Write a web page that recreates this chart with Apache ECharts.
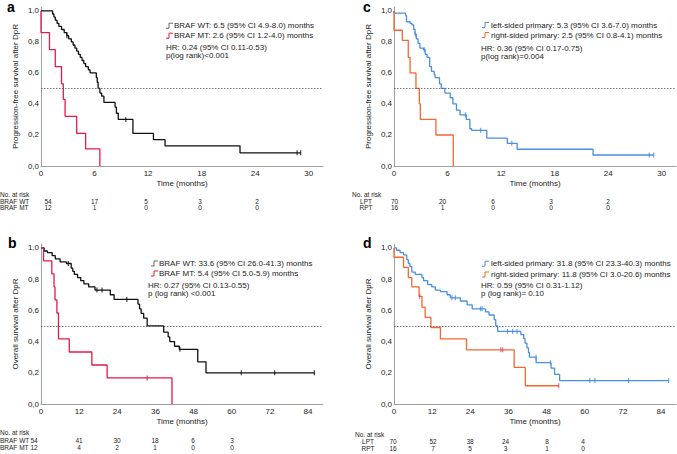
<!DOCTYPE html>
<html><head><meta charset="utf-8">
<script src="https://cdn.jsdelivr.net/npm/echarts@6/dist/echarts.min.js"></script>
<style>html,body{margin:0;padding:0;background:#fff}#c{width:677px;height:454px}</style>
</head><body><div id="c"></div>
<script>
// ---------- DATA (time in months, survival probability) ----------
var pfsWt = [[0,1],[1.3,0.98],[1.45,0.96],[1.6,0.94],[1.8,0.92],[2.0,0.90],[2.3,0.88],[2.6,0.86],[2.9,0.84],[3.1,0.82],[3.4,0.80],[3.6,0.78],[3.8,0.76],[4.0,0.74],[4.2,0.72],[4.4,0.70],[4.6,0.68],[4.8,0.66],[5.0,0.64],[5.3,0.62],[5.5,0.60],[6.2,0.57],[6.3,0.54],[6.4,0.50],[6.6,0.47],[6.8,0.45],[7.05,0.41],[8.3,0.38],[8.45,0.34],[8.66,0.30],[10.3,0.21],[12.6,0.17],[13.9,0.13],[22.3,0.085],[29.1,0.085]];
var pfsMt = [[0,1],[0,0.86],[0.95,0.75],[1.6,0.64],[2.3,0.53],[2.5,0.43],[2.7,0.32],[4.0,0.21],[5.0,0.11],[6.6,0]];
var pfsWtCens = [[2.9,0.84],[9.5,0.30],[28.7,0.085],[29.1,0.085]];

var osWt = [[0,1],[1.0,0.98],[2.0,0.97],[3.5,0.95],[4.5,0.93],[6.0,0.91],[8.0,0.90],[9.5,0.87],[10,0.85],[10.5,0.83],[11.5,0.81],[12.5,0.79],[13.5,0.77],[15,0.75],[17,0.73],[21.8,0.70],[23,0.67],[30.5,0.64],[31,0.61],[31.5,0.58],[32.3,0.55],[33.4,0.50],[38.6,0.46],[40,0.43],[40.5,0.40],[42,0.37],[43.5,0.35],[49.3,0.27],[51.9,0.20],[86,0.20]];
var osMt = [[0,1],[0.8,0.917],[3.4,0.833],[4.1,0.75],[4.4,0.667],[5.0,0.583],[5.5,0.417],[8.9,0.333],[16,0.25],[20.8,0.167],[41.2,0]];
var osWtCens = [[8.6,0.90],[17.6,0.73],[19.2,0.73],[27,0.67],[43.7,0.35],[63,0.20],[73.5,0.20],[86,0.20]];
var osMtCens = [[33.4,0.167]];

var pfsL = [[0,1],[0,0.985],[1.3,0.97],[1.4,0.93],[1.8,0.92],[2.0,0.91],[2.2,0.88],[2.35,0.85],[2.5,0.82],[2.7,0.79],[2.9,0.76],[3.3,0.75],[3.5,0.72],[3.7,0.70],[4.0,0.64],[4.2,0.61],[4.5,0.59],[4.6,0.57],[5.1,0.53],[5.3,0.50],[5.7,0.47],[6.3,0.44],[6.6,0.40],[7.0,0.36],[7.4,0.33],[8.1,0.30],[8.5,0.24],[8.7,0.23],[10.4,0.18],[12.7,0.146],[13.8,0.108],[22.3,0.071],[29.1,0.071]];
var pfsR = [[0,1],[0,0.875],[0.93,0.81],[1.6,0.70],[1.8,0.60],[2.46,0.50],[2.84,0.40],[2.95,0.30],[4.7,0.20],[6.64,0]];
var pfsLCens = [[2.4,0.85],[3.4,0.75],[8.0,0.33],[9.7,0.23],[13.2,0.146],[28.6,0.071],[29.1,0.071]];

var osL = [[0,1],[0.8,0.985],[1.9,0.97],[3.0,0.955],[4.0,0.925],[4.5,0.90],[5.0,0.88],[5.6,0.845],[6.7,0.83],[8.8,0.81],[9.3,0.79],[10.6,0.765],[11.9,0.75],[13.0,0.73],[14.6,0.72],[16.7,0.70],[17.7,0.68],[20.9,0.66],[23.0,0.635],[24.6,0.61],[28.8,0.59],[29.9,0.57],[31.5,0.54],[32.0,0.50],[32.6,0.465],[39.9,0.445],[40.8,0.42],[41.2,0.39],[41.8,0.36],[42.3,0.33],[42.6,0.30],[44.7,0.265],[49.4,0.23],[50.5,0.19],[52.1,0.15],[86.4,0.15]];
var osR = [[0,1],[0,0.94],[3.0,0.875],[4.5,0.81],[5.6,0.75],[7.9,0.69],[8.8,0.62],[9.8,0.555],[11.6,0.49],[14.6,0.417],[22.8,0.347],[37.8,0.234],[41.3,0.117],[51.8,0.117]];
var osLCens = [[18.2,0.68],[19.3,0.68],[27.2,0.61],[27.7,0.61],[35.7,0.465],[37.3,0.465],[38.7,0.465],[44.7,0.30],[49.2,0.265],[61.6,0.15],[63.2,0.15],[73.8,0.15],[86.4,0.15]];
var osRCens = [[8.1,0.69],[33.6,0.347],[34.2,0.347],[51.8,0.117]];

var panelLetters = ['a','b','c','d'];
var yNames = ['Progression-free survival after DpR','Overall survival after DpR','Progression-free survival after DpR','Overall survival after DpR'];
var xName = 'Time (months)';
var legendA = ['BRAF WT: 6.5 (95% CI 4.9-8.0) months','BRAF MT: 2.6 (95% CI 1.2-4.0) months','HR: 0.24 (95% CI 0.11-0.53)','p(log rank)<0.001'];
var legendB = ['BRAF WT: 33.6 (95% CI 26.0-41.3) months','BRAF MT: 5.4 (95% CI 5.0-5.9) months','HR: 0.27 (95% CI 0.13-0.55)','p (log rank) <0.001'];
var legendC = ['left-sided primary: 5.3 (95% CI 3.6-7.0) months','right-sided primary: 2.5 (95% CI 0.8-4.1) months','HR: 0.36 (95% CI 0.17-0.75)','p(log rank)=0.004'];
var legendD = ['left-sided primary: 31.8 (95% CI 23.3-40.3) months','right-sided primary: 11.8 (95% CI 3.0-20.6) months','HR: 0.59 (95% CI 0.31-1.12)','p (log rank)= 0.10'];

var riskHeader = 'No. at risk';
var riskLabelsBraf = ['BRAF WT','BRAF MT'];
var riskLabelsSide = ['LPT','RPT'];
var riskA = [[54,17,5,3,2],[12,1,0,0,0]];
var riskB = [[54,41,30,18,6,3],[12,4,2,1,0,0]];
var riskC = [[70,20,6,3,2],[16,1,0,0,0]];
var riskD = [[70,52,38,24,8,4],[16,7,5,3,1,0]];

// ---------- LAYOUT / STYLE ----------
var FONT = '"Liberation Sans", Arial, sans-serif';
var TXT = '#222';
var AX = '#a0a0a0';
var C_BLACK = '#111111', C_RED = '#e5194b', C_BLUE = '#4a8fe2', C_ORANGE = '#f4672f', C_CENS_R = '#e8416a';
var grids = [
  {left:41, top:7, width:282, height:159},
  {left:41, top:244, width:282, height:160},
  {left:394, top:7, width:282, height:159},
  {left:394, top:244, width:282, height:160}
];
var xMax = [31.6, 88.7, 31.6, 88.7];
var xInt = [6, 12, 6, 12];

var option = {
  animation:false,
  backgroundColor:'#fff',
  grid: grids.map(function(g){return Object.assign({outerBoundsMode:'none', containLabel:false}, g);}),
  xAxis: grids.map(function(g,i){return {
    gridIndex:i, type:'value', min:0, max:xMax[i], interval:xInt[i],
    axisLine:{show:true, onZero:false, lineStyle:{color:AX, width:1}},
    axisTick:{show:false}, splitLine:{show:false},
    axisLabel:{fontSize:8, fontFamily:FONT, color:TXT, margin:3,
      formatter:function(v){ return (Math.abs(v/xInt[i]-Math.round(v/xInt[i]))<1e-6) ? String(Math.round(v)) : ''; }},
    name:xName, nameLocation:'middle', nameGap:13,
    nameTextStyle:{fontSize:8, fontFamily:FONT, color:TXT}
  };}),
  yAxis: grids.map(function(g,i){return {
    gridIndex:i, type:'value', min:0, max:1.025, interval:0.2,
    axisLine:{show:true, lineStyle:{color:AX, width:1}},
    axisTick:{show:false}, splitLine:{show:false},
    axisLabel:{fontSize:8, fontFamily:FONT, color:TXT, margin:2,
      formatter:function(v){ var k=v*5; return (Math.abs(k-Math.round(k))<1e-6) ? (Math.round(k)/5).toFixed(1).replace('.',',') : ''; }},
    name:yNames[i], nameLocation:'middle', nameGap:22,
    nameTextStyle:{fontSize:8, fontFamily:FONT, color:TXT}
  };}),
  series: [],
  graphic: []
};

function km(data, gi, color, withRef){
  var s = {type:'line', xAxisIndex:gi, yAxisIndex:gi, data:data, step:'end', symbol:'none',
    lineStyle:{color:color, width:1.3}, itemStyle:{color:color}, silent:true, z:3};
  if(withRef){
    s.markLine = {silent:true, symbol:['none','none'], label:{show:false},
      lineStyle:{color:'#555', type:[1.5,1.5], width:0.8}, data:[{yAxis:0.5}]};
  }
  option.series.push(s);
}
function cens(data, gi, color){
  option.series.push({type:'scatter', xAxisIndex:gi, yAxisIndex:gi, data:data, symbol:'rect',
    symbolSize:[1.2,5], itemStyle:{color:color}, silent:true, z:4});
}
km(pfsWt,0,C_BLACK,true); km(pfsMt,0,C_RED,false); cens(pfsWtCens,0,C_BLACK);
km(osWt,1,C_BLACK,true); km(osMt,1,C_RED,false); cens(osWtCens,1,C_BLACK); cens(osMtCens,1,C_RED);
km(pfsL,2,C_BLUE,true); km(pfsR,2,C_ORANGE,false); cens(pfsLCens,2,C_BLUE);
km(osL,3,C_BLUE,true); km(osR,3,C_ORANGE,false); cens(osLCens,3,C_BLUE); cens(osRCens,3,C_CENS_R);

function txt(s, x, y, opt){
  opt = opt || {};
  option.graphic.push({type:'text', silent:true, x:x, y:y, style:{text:s, fill:opt.fill||TXT,
    font:(opt.weight||'normal')+' '+(opt.size||8)+'px '+FONT, align:opt.align||'left', verticalAlign:opt.va||'middle'}});
}
function icon(x, y, color){
  option.graphic.push({type:'polyline', silent:true, shape:{points:[[x,y+2.5],[x+3,y+2.5],[x+3,y-2.5],[x+7,y-2.5]]},
    style:{stroke:color, fill:null, lineWidth:1}});
}
// legend blocks
var legendPos = [
  {ix:166, tx:174, hx:166, y:[25.7,35.7,47,55.7], cols:['#666',C_RED], lines:legendA},
  {ix:151, tx:159, hx:148, y:[263.5,273.5,285.8,293.8], cols:['#666',C_RED], lines:legendB},
  {ix:482, tx:491, hx:481, y:[25,35,48,56.3], cols:[C_BLUE,C_ORANGE], lines:legendC},
  {ix:482, tx:491, hx:481, y:[263.7,274.5,285.3,293.7], cols:[C_BLUE,C_ORANGE], lines:legendD}
];
legendPos.forEach(function(L){
  icon(L.ix, L.y[0], L.cols[0]); txt(L.lines[0], L.tx, L.y[0]);
  icon(L.ix, L.y[1], L.cols[1]); txt(L.lines[1], L.tx, L.y[1]);
  txt(L.lines[2], L.hx, L.y[2]); txt(L.lines[3], L.hx, L.y[3]);
});
// panel letters
var letterPos = [[7,7],[8,243],[363,7],[363,243]];
panelLetters.forEach(function(l,i){ txt(l, letterPos[i][0], letterPos[i][1], {size:14, weight:'bold', fill:'#000'}); });
// risk tables
var RF = 6.5;
var riskLayout = [
  {hx:0, hy:194.5, lx:0, la:'left', ly:[201,207.5], vx:[48,94.5,146,200,257], labels:riskLabelsBraf, vals:riskA},
  {hx:0, hy:432.5, lx:0, la:'left', ly:[440,447.5], vx:[34,79,117,155,193,232], labels:riskLabelsBraf, vals:riskB},
  {hx:352, hy:194.5, lx:366, la:'center', ly:[201,207.5], vx:[394.5,442.5,493,551,608], labels:riskLabelsSide, vals:riskC},
  {hx:355, hy:434, lx:368, la:'center', ly:[441.5,448.5], vx:[393,433,470,505.5,547,583], labels:riskLabelsSide, vals:riskD}
];
riskLayout.forEach(function(R){
  txt(riskHeader, R.hx, R.hy, {size:RF});
  for(var r=0;r<2;r++){
    txt(R.labels[r], R.lx, R.ly[r], {align:R.la, size:RF});
    R.vals[r].forEach(function(v,k){ txt(String(v), R.vx[k], R.ly[r], {align:'center', size:RF}); });
  }
});

var chart = echarts.init(document.getElementById('c'), null, {renderer:'svg', width:677, height:454});
chart.setOption(option);
</script></body></html>
